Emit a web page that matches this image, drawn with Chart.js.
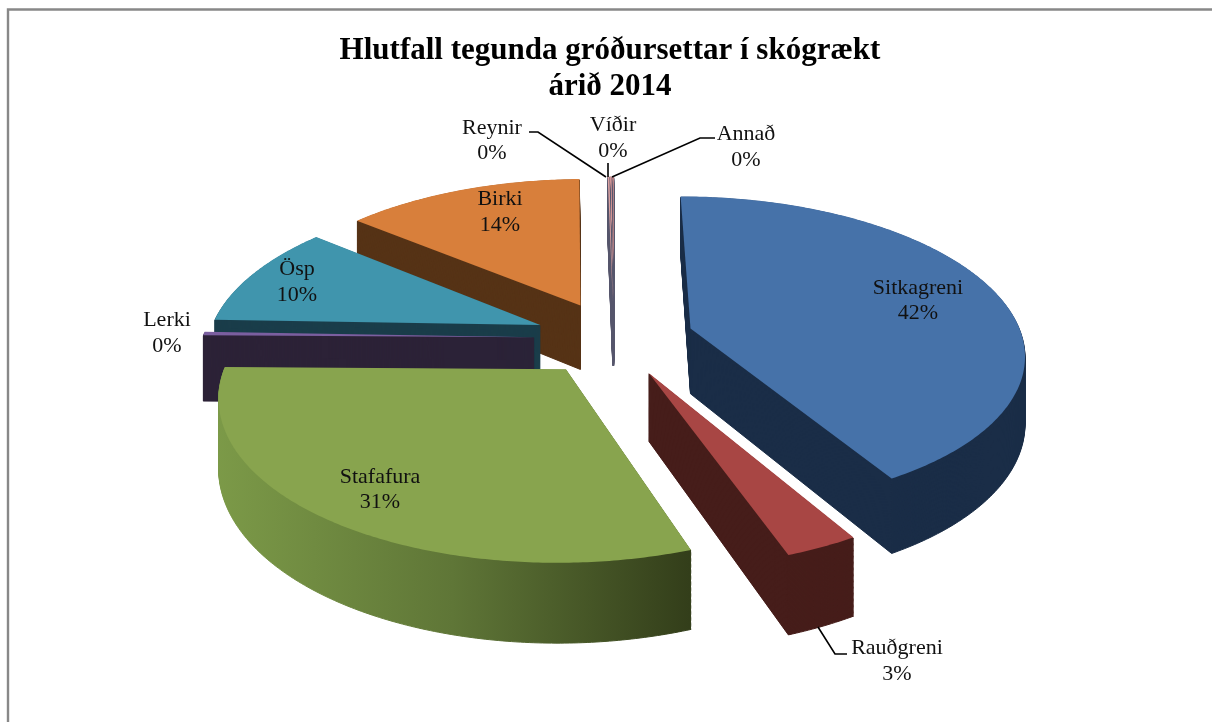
<!DOCTYPE html>
<html>
<head>
<meta charset="utf-8">
<style>
	html, body { margin: 0; padding: 0; background: #fff; overflow: hidden; }
	canvas { display: block; }
</style>
<script src="https://cdn.jsdelivr.net/npm/chart.js@4"></script>
</head>
<body>
<canvas id="pie" width="1212" height="722"></canvas>
<script>
const categories = ['Sitkagreni', 'Rauðgreni', 'Stafafura', 'Lerki', 'Ösp', 'Birki', 'Reynir', 'Víðir', 'Annað']
const shares = [41.6, 3, 30.6, 0.35, 10.49, 13.66, 0.1, 0.1, 0.1]
const titleLines = ['Hlutfall tegunda gróðursettar í skógrækt', 'árið 2014']

const topColors = ['#4672a9', '#a84644', '#88a44e', '#7b5fa0', '#4095ad', '#d87f3b', '#d9a0a0', '#d39494', '#cc8a8a']
const sideColors = ['#1a2d47', '#461d1a', null, '#2c2237', '#1a3d4a', '#563316', '#56566c', '#56566c', '#56566c']

// where the text of each slice sits (centre x, first line y, second line y)
const labelSpots = [
	[918, 288, 313],
	[897, 648, 674],
	[380, 477, 502],
	[167, 320, 346],
	[297, 269, 295],
	[500, 199, 225],
	[492, 128, 153],
	[613, 125, 151],
	[746, 134, 160]
]
const leaders = [
	[[529, 132], [538, 132], [606, 177]],
	[[608, 163], [608, 177]],
	[[715, 138], [700, 138], [612, 177]],
	[[818, 627], [835, 654], [847, 654]]
]

const view = { squash: 0.465, perspective: 0.00045, depth: 66, explode: 80, shiftX: 4 }

const project = (arc, mid, angle, r, h) => {
	const u = view.explode * Math.cos(mid) + r * Math.cos(angle)
	const v = view.explode * Math.sin(mid) + r * Math.sin(angle)
	const w = 1 / (1 - view.perspective * v)
	return [arc.x + view.shiftX + u * w, arc.y + (view.squash * v + h) * w]
}

const fillSlice = (ctx, arc, h, color, edge) => {
	const mid = (arc.startAngle + arc.endAngle) / 2
	const steps = Math.max(2, Math.ceil((arc.endAngle - arc.startAngle) * 90))
	ctx.beginPath()
	ctx.moveTo(...project(arc, mid, 0, 0, h))
	for (let i = 0; i <= steps; i++) {
		const angle = arc.startAngle + ((arc.endAngle - arc.startAngle) * i) / steps
		ctx.lineTo(...project(arc, mid, angle, arc.outerRadius, h))
	}
	ctx.closePath()
	ctx.fillStyle = color
	ctx.fill()
	if (edge) {
		ctx.strokeStyle = color
		ctx.lineWidth = 1
		ctx.stroke()
	}
}

const pie3d = {
	id: 'pie3d',
	beforeDraw: chart => {
		const ctx = chart.ctx
		ctx.save()
		ctx.fillStyle = '#ffffff'
		ctx.fillRect(0, 0, chart.width, chart.height)
		ctx.strokeStyle = '#888888'
		ctx.lineWidth = 2.4
		ctx.beginPath()
		ctx.moveTo(8, 722)
		ctx.lineTo(8, 9.5)
		ctx.lineTo(1212, 9.5)
		ctx.stroke()
		ctx.restore()
	},
	beforeDatasetsDraw: chart => {
		const ctx = chart.ctx
		const arcs = chart.getDatasetMeta(0).data.map((arc, i) => ({ arc, i }))
		arcs.sort((a, b) => Math.sin((a.arc.startAngle + a.arc.endAngle) / 2) - Math.sin((b.arc.startAngle + b.arc.endAngle) / 2))
		const fade = ctx.createLinearGradient(215, 0, 690, 0)
		fade.addColorStop(0, '#7c9a48')
		fade.addColorStop(0.5, '#5f7637')
		fade.addColorStop(1, '#333e1a')
		ctx.save()
		arcs.forEach(({ arc, i }) => {
			for (let h = view.depth; h > 0; h--) fillSlice(ctx, arc, h, sideColors[i] || fade, true)
			fillSlice(ctx, arc, 0, arc.options.backgroundColor, false)
		})
		ctx.restore()
		return false
	},
	afterDraw: chart => {
		const ctx = chart.ctx
		const total = shares.reduce((a, b) => a + b, 0)
		ctx.save()
		ctx.strokeStyle = '#000000'
		ctx.lineWidth = 1.6
		leaders.forEach(line => {
			ctx.beginPath()
			line.forEach((p, n) => (n ? ctx.lineTo(p[0], p[1]) : ctx.moveTo(p[0], p[1])))
			ctx.stroke()
		})
		ctx.font = '22px "Liberation Serif"'
		ctx.fillStyle = '#111111'
		ctx.textAlign = 'center'
		ctx.textBaseline = 'middle'
		categories.forEach((name, i) => {
			ctx.fillText(name, labelSpots[i][0], labelSpots[i][1])
			ctx.fillText(Math.round((shares[i] / total) * 100) + '%', labelSpots[i][0], labelSpots[i][2])
		})
		ctx.restore()
	}
}

new Chart('pie', {
	type: 'pie',
	plugins: [pie3d],
	data: {
		labels: categories,
		datasets: [
			{
				data: shares,
				backgroundColor: topColors,
				borderWidth: 0
			}
		]
	},
	options: {
		responsive: false,
		animation: false,
		rotation: 0,
		radius: 332,
		layout: {
			padding: { left: 8, bottom: 151.5 }
		},
		plugins: {
			legend: { display: false },
			tooltip: { enabled: false },
			title: {
				display: true,
				text: titleLines,
				color: '#000000',
				font: { family: '"Liberation Serif"', size: 31, weight: 'bold', lineHeight: 1.17 },
				padding: { top: 33, bottom: 0 }
			}
		}
	}
})
</script>
</body>
</html>
